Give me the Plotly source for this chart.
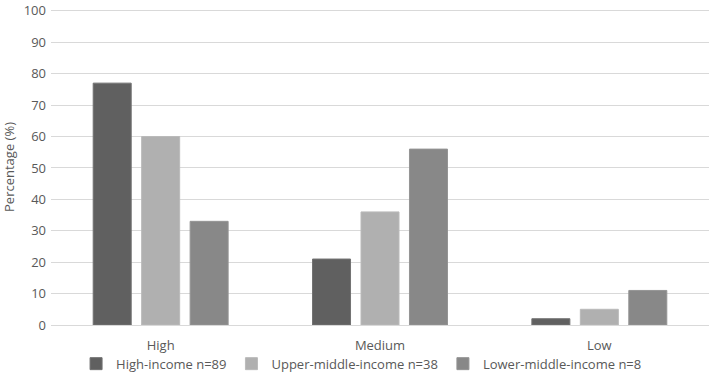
import plotly.graph_objects as go

categories = ["High", "Medium", "Low"]
series_names = ["High-income n=89", "Upper-middle-income n=38", "Lower-middle-income n=8"]
high_income = [77, 21, 2]
upper_middle = [60, 36, 5]
lower_middle = [33, 56, 11]
colors = ["#606060", "#b0b0b0", "#888888"]
edge_colors = ["#727272", "#bababa", "#949494"]
y_ticks = [0, 10, 20, 30, 40, 50, 60, 70, 80, 90, 100]

fig = go.Figure()
for name, vals, c, ec in zip(series_names, [high_income, upper_middle, lower_middle], colors, edge_colors):
    fig.add_trace(go.Bar(x=categories, y=vals, name=name,
                         marker=dict(color=c, line=dict(width=1, color=ec))))

font_color = "#595959"
fig.update_layout(
    width=709, height=379,
    margin=dict(l=51, r=0, t=9, b=49, pad=0),
    paper_bgcolor="white", plot_bgcolor="white",
    barmode="group", bargap=0.337, bargroupgap=0.216,
    font=dict(family="Open Sans, Liberation Sans, sans-serif", size=13, color=font_color),
    showlegend=True,
    legend=dict(orientation="h", x=0.472, xref="paper", xanchor="center", y=-0.075, yanchor="top",
                bgcolor="rgba(0,0,0,0)",
                font=dict(size=13, color=font_color), traceorder="normal",
                itemwidth=30),
    xaxis=dict(showgrid=False, showline=True, linecolor="#d9d9d9", linewidth=1,
               ticks="", automargin=False, ticklabelstandoff=8,
               tickfont=dict(size=13, color=font_color)),
    yaxis=dict(range=[0, 100.6], tickvals=y_ticks, showgrid=True, gridcolor="#d9d9d9",
               gridwidth=1, zeroline=False, ticks="", ticklen=0, automargin=False,
               ticklabeloverflow="allow", ticklabelstandoff=4,
               tickfont=dict(size=13, color=font_color),
               title=dict(text="Percentage (%)", font=dict(size=13, color=font_color), standoff=12)),
)

fig.write_html("out.html", config={"displayModeBar": False},
               post_script="document.body.style.margin='0px';document.body.style.overflow='hidden';")
